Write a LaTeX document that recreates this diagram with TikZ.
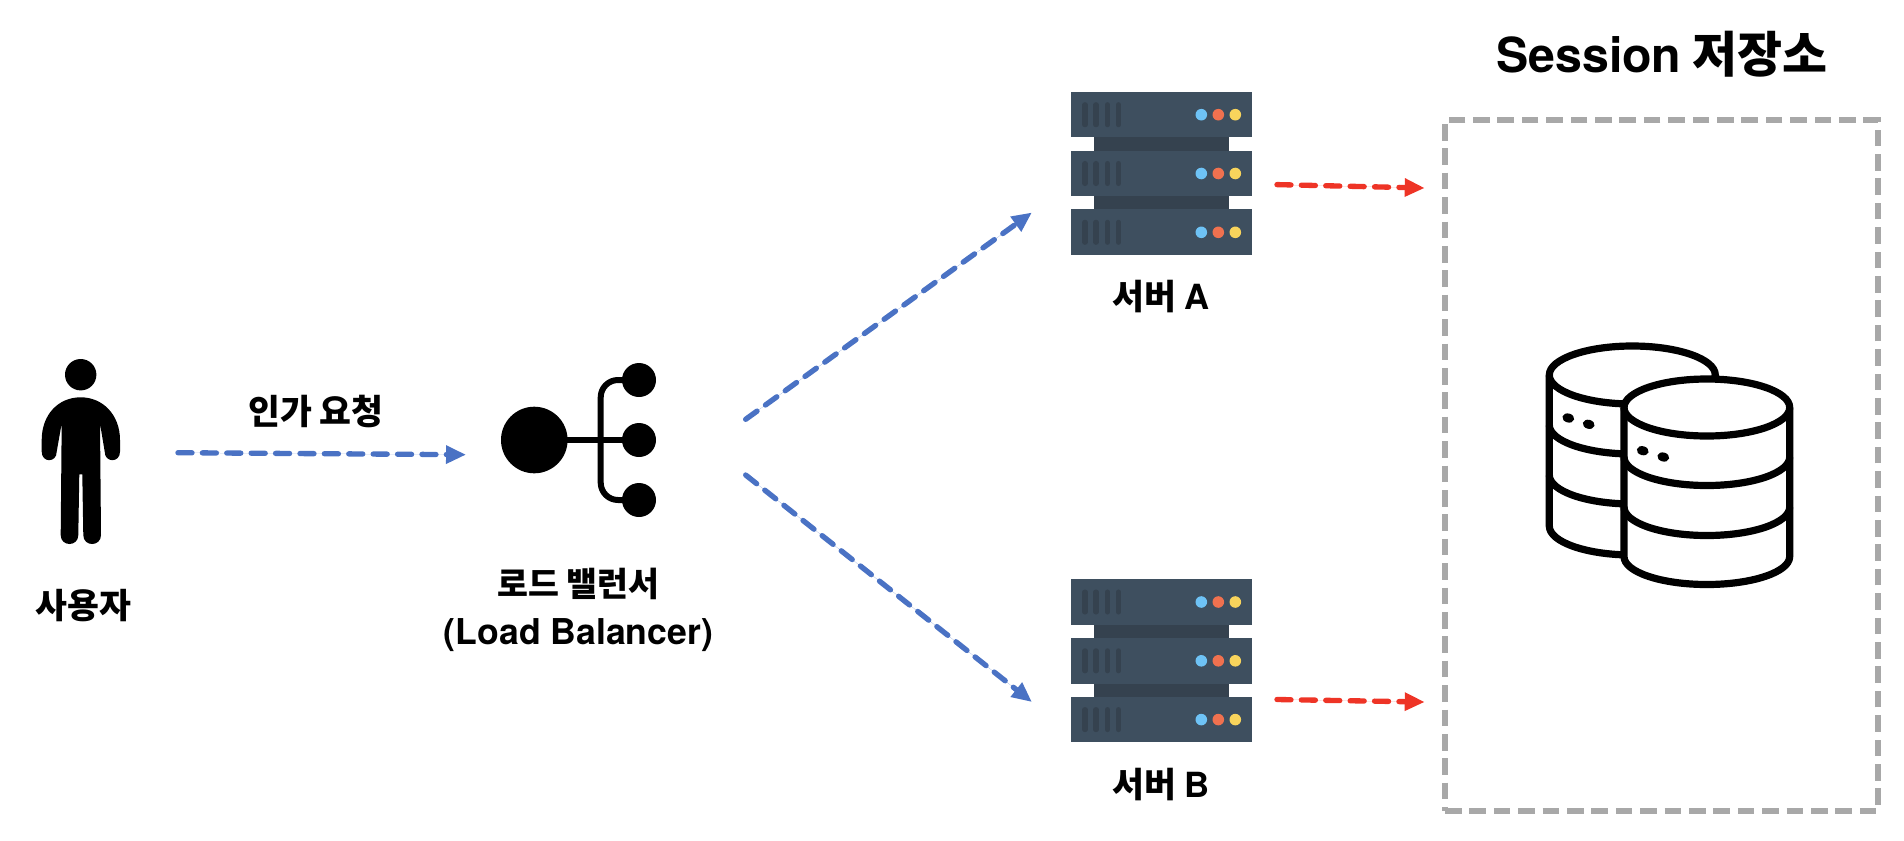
\documentclass[tikz,border=0pt]{standalone}
\usepackage{fontspec}
\usepackage{tikz}
\usetikzlibrary{arrows.meta}
\setmainfont{Noto Sans CJK KR}
\newfontfamily\latinfont{TeX Gyre Heros}[BoldFont={TeX Gyre Heros Bold}]
\newcommand{\latinbold}{\latinfont\bfseries}
\definecolor{flowblue}{HTML}{4A72C4}
\definecolor{flowred}{HTML}{EE3426}
\definecolor{boxgray}{HTML}{A8A8A8}
\definecolor{srvbody}{HTML}{3E4F5F}
\definecolor{srvdark}{HTML}{35424F}
\definecolor{ledblue}{HTML}{6EC3F6}
\definecolor{ledred}{HTML}{F0714F}
\definecolor{ledyellow}{HTML}{F8D45C}
\tikzset{
  iconbox/.style={inner sep=0pt,outer sep=0pt},
  flow/.style={dash pattern=on 10.5pt off 7.8pt,line cap=round,line width=4pt,
    -{Triangle[length=15pt,width=13pt]}},
  bluflow/.style={flow,draw=flowblue,fill=flowblue},
  redflow/.style={flow,draw=flowred,fill=flowred},
  caption/.style={font=\bfseries\fontsize{26}{30}\selectfont,inner sep=0pt},
  cylline/.style={line width=5.4pt,draw=black,fill=white,line join=round},
}
\begin{document}
\begin{tikzpicture}[x=0.75pt,y=0.75pt,yscale=-1,xscale=1]
\useasboundingbox (0,0) rectangle (1904,840);

% Icon Boxes
\node (user) [iconbox,minimum width=58.7pt,minimum height=138pt] at (80.85,459) {};
\node (lb) [iconbox,minimum width=116.2pt,minimum height=115.5pt] at (578.5,440) {};
\node (srvA) [iconbox,minimum width=136pt,minimum height=122.5pt] at (1161.3,173.3) {};
\node (srvB) [iconbox,minimum width=136pt,minimum height=122.5pt] at (1161.3,661) {};
\node (store) [draw=boxgray,line width=4.2pt,dash pattern=on 12.5pt off 5.8pt,inner sep=0pt,
  minimum width=324.75pt,minimum height=518.6pt] at (1661.5,465.5) {};

%Person
\fill (80.7,374.7) circle [radius=15.7];
\fill (80.7,397.3) .. controls (103,397.3) and (120,415) .. (120,440) -- (120,451.7)
  .. controls (120,463) and (104.7,463) .. (104.7,451.7) -- (100,423.3) -- (101,535)
  .. controls (101,547) and (83.3,547) .. (83.3,535) -- (82.3,474.3) -- (79.3,474.3) -- (78.3,535)
  .. controls (78.3,547) and (60.7,547) .. (60.7,535) -- (61.7,423.3) -- (56.7,451.7)
  .. controls (56.7,463) and (41.7,463) .. (41.7,451.7) -- (41.7,440)
  .. controls (41.7,415) and (58,397.3) .. (80.7,397.3) -- cycle;

%Load Balancer
\fill (534.3,440) circle [radius=33.3];
\foreach \cy in {380,440,500} {
  \fill (639,\cy) circle [radius=17];
}
\draw [line width=4.5pt] (534.3,440) -- (639,440);
\draw [line width=4.5pt,rounded corners=13pt] (639,380) -- (600.7,380) -- (600.7,500) -- (639,500);

%Servers
\foreach \ty in {91.7,579} {
  \fill [srvdark] (1094.3,\ty+40) rectangle (1228.7,\ty+125);
  \foreach \oy in {0,58.8,117.6} {
    \fill [srvbody] (1070.7,\ty+\oy) rectangle (1252,\ty+\oy+45.7);
    \foreach \vx in {1085,1096,1107.5,1118.5} {
      \draw [srvdark,line width=3.8pt,line cap=round] (\vx,\ty+\oy+13) -- (\vx,\ty+\oy+33);
    }
    \fill [ledblue] (1201.3,\ty+\oy+23) circle [radius=5.8];
    \fill [ledred] (1218.3,\ty+\oy+23) circle [radius=5.8];
    \fill [ledyellow] (1235.3,\ty+\oy+23) circle [radius=5.8];
  }
}

%Back Cylinder
\draw [cylline] (1549.3,375) -- (1549.3,526) arc [start angle=180,end angle=0,x radius=83,y radius=29]
  -- (1715.3,375) arc [start angle=0,end angle=-180,x radius=83,y radius=29] -- cycle;
\foreach \ay in {375,425,475} {
  \draw [cylline,fill=none] (1549.3,\ay) arc [start angle=180,end angle=0,x radius=83,y radius=29];
}
\fill [rotate around={15:(1568.3,418)}] (1568.3,418) ellipse [x radius=6,y radius=4.5];
\fill [rotate around={15:(1588.7,424.3)}] (1588.7,424.3) ellipse [x radius=6,y radius=4.5];

%Front Cylinder
\draw [cylline] (1624,407.5) -- (1624,556.5) arc [start angle=180,end angle=0,x radius=82.85,y radius=28]
  -- (1789.7,407.5) arc [start angle=0,end angle=-180,x radius=82.85,y radius=28.5] -- cycle;
\foreach \ay in {407.5,457,507} {
  \draw [cylline,fill=none] (1624,\ay) arc [start angle=180,end angle=0,x radius=82.85,y radius=28.5];
}
\fill [rotate around={15:(1642.7,450.7)}] (1642.7,450.7) ellipse [x radius=6,y radius=4.5];
\fill [rotate around={15:(1663.3,457)}] (1663.3,457) ellipse [x radius=6,y radius=4.5];

%Connectors
\draw [bluflow] ([shift={(58,-6.3)}]user.east) -- ([shift={(-35,14.7)}]lb.west);
\draw [bluflow] ([shift={(89.7,-20.7)}]lb.east) -- ([shift={(-38.7,39.2)}]srvA.west);
\draw [bluflow] ([shift={(89.7,35)}]lb.east) -- ([shift={(-38.7,41)}]srvB.west);
\draw [redflow] ([shift={(25,11.3)}]srvA.east) -- ([shift={(-17.5,-277.5)}]store.west);
\draw [redflow] ([shift={(25,38.5)}]srvB.east) -- ([shift={(-17.5,236.5)}]store.west);

% Text Node
\node (userLabel) [caption] at (83.3,606) {사용자};
% Text Node
\node (reqLabel) [caption] at (316,411) {인가 요청};
% Text Node
\node (lbLabel) [caption,align=center,font=\bfseries\fontsize{25.2}{36}\selectfont] at (578.5,610)
  {로드 밸런서\\{\latinbold\fontsize{26.7}{36}\selectfont (Load Balancer)}};
% Text Node
\node (srvALabel) [caption] at (1161,297) {서버 {\latinbold A}};
% Text Node
\node (srvBLabel) [caption] at (1161,785) {서버 {\latinbold B}};
% Text Node
\node (storeLabel) [caption,font=\bfseries\fontsize{36.7}{44}\selectfont] at (1662,54) {{\latinbold\fontsize{36.2}{44}\selectfont Session} 저장소};

\end{tikzpicture}
\end{document}
